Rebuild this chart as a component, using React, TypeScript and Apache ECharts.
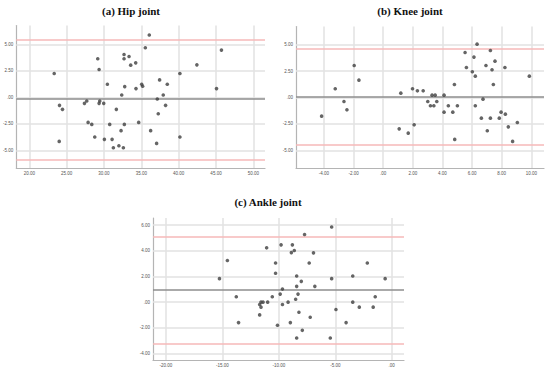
import { useEffect, useRef } from "react";
import * as echarts from "echarts";

// (a) Hip joint
const hipX = [36.07, 35.54, 45.73, 32.69, 33.36, 29.17, 32.69, 34.25, 33.58, 42.44, 29.35, 23.34, 40.17, 37.45, 30.46, 35.05, 38.48, 35.18, 32.78, 34.29, 45.07, 32.38, 37.94, 37.14, 27.7, 27.39, 29.44, 29.35, 29.97, 24.05, 24.45, 31.66, 38.25, 37.27, 27.88, 28.37, 30.77, 32.73, 34.65, 32.29, 36.25, 28.77, 40.17, 30.06, 31.09, 24.01, 37.05, 32.0, 31.26, 32.6];
const hipY = [5.87, 4.67, 4.45, 4.04, 3.85, 3.63, 3.63, 3.25, 3.03, 3.06, 2.62, 2.24, 2.24, 1.64, 1.23, 1.23, 1.23, 1.04, 1.01, 0.82, 0.82, 0.22, 0.22, -0.16, -0.35, -0.57, -0.35, -0.57, -0.57, -0.76, -1.14, -1.14, -0.76, -1.55, -2.37, -2.56, -2.56, -2.56, -2.37, -3.15, -3.15, -3.75, -3.75, -3.97, -3.97, -4.16, -4.35, -4.57, -4.76, -4.76];
const hipLines = [5.43, -0.16, -5.85]; // upper LoA, mean, lower LoA
const hipXTicks = [20, 25, 30, 35, 40, 45, 50];
const hipYTicks = [-5, -2.5, 0, 2.5, 5];

// (b) Knee joint
const kneeX = [6.34, 5.53, 7.24, 6.13, 7.55, -1.96, 6.94, 5.62, 8.22, 6.02, 7.35, 6.22, 9.87, -1.64, 4.81, 7.44, -3.24, 1.98, 2.31, 2.7, 1.19, 3.3, 3.51, 4.11, 6.74, -2.65, 3.01, 3.62, 3.19, 3.42, 4.4, 5.01, 6.22, -2.45, 4.11, 4.7, 7.96, 8.25, -4.16, 6.63, 7.24, 7.84, 9.06, 2.09, 8.45, 1.08, 7.03, 1.69, 4.83, 8.74];
const kneeY = [5.05, 4.26, 4.45, 3.82, 3.44, 3.03, 3.03, 2.84, 2.84, 2.43, 2.62, 2.02, 2.02, 1.64, 1.23, 1.23, 0.82, 0.82, 0.63, 0.63, 0.41, 0.22, 0.22, 0.22, -0.16, -0.38, -0.38, -0.38, -0.79, -0.79, -0.79, -0.79, -0.79, -1.17, -1.39, -1.39, -1.39, -1.58, -1.77, -1.96, -1.96, -1.96, -2.37, -2.59, -2.78, -2.97, -3.15, -3.38, -3.97, -4.16];
const kneeLines = [4.64, 0.07, -4.45];
const kneeXTicks = [-4, -2, 0, 2, 4, 6, 8, 10];
const kneeYTicks = [-5, -2.5, 0, 2.5, 5];

// (c) Ankle joint
const ankleX = [-5.32, -7.72, -9.8, -8.8, -11.08, -8.63, -8.89, -6.93, -14.56, -10.29, -7.31, -2.16, -8.42, -3.45, -10.29, -15.26, -5.32, -0.58, -8.01, -8.42, -6.81, -9.68, -13.77, -10.58, -1.46, -9.88, -8.3, -8.51, -11.58, -11.4, -10.99, -9.18, -3.45, -11.7, -11.58, -9.68, -2.87, -1.64, -4.94, -8.22, -11.7, -7.22, -13.57, -8.98, -4.04, -10.12, -7.92, -8.42, -5.44];
const ankleY = [5.85, 5.27, 4.46, 4.46, 4.23, 4.02, 3.86, 3.84, 3.24, 3.05, 3.05, 3.05, 2.04, 2.04, 2.25, 1.83, 1.83, 1.83, 1.62, 1.23, 1.23, 1.02, 0.42, 0.42, 0.42, 0.63, 0.63, 0.23, 0.0, 0.0, 0.0, 0.0, 0.0, -0.18, -0.39, -0.18, -0.39, -0.39, -0.57, -0.78, -0.99, -1.17, -1.59, -1.59, -1.59, -1.8, -2.19, -2.79, -2.79];
const ankleLines = [5.12, 0.97, -3.2];
const ankleXTicks = [-20, -15, -10, -5, 0];
const ankleYTicks = [-4, -2, 0, 2, 4, 6];

const titles = ["(a) Hip joint", "(b) Knee joint", "(c) Ankle joint"];

const fmt = (v: number) => (Math.abs(v) < 1e-9 ? ".00" : v.toFixed(2));

const GRID_COLOR = "#e2e2e2";
const AXIS_COLOR = "#b4b4b4";
const DOT_COLOR = "#3f3f3f";
const LOA_COLOR = "#f6b8b8";
const MEAN_COLOR = "#8e8e8e";

function makeAxis(gridIndex: number, min: number, max: number, ticks: number[]) {
  return {
    type: "value",
    gridIndex,
    min,
    max,
    axisLine: { show: true, onZero: false, lineStyle: { color: AXIS_COLOR, width: 1.2 } },
    axisTick: { show: false, customValues: ticks },
    axisLabel: {
      customValues: ticks,
      formatter: fmt,
      fontSize: 4.5,
      color: "#555",
      margin: 3,
      fontFamily: "Liberation Sans",
    },
    splitLine: { show: false },
  };
}

function makeGridSeries(idx: number, xt: number[], yt: number[]) {
  return {
    type: "scatter",
    xAxisIndex: idx,
    yAxisIndex: idx,
    z: 1,
    silent: true,
    data: [],
    markLine: {
      z: 1,
      silent: true,
      symbol: "none",
      label: { show: false },
      lineStyle: { color: GRID_COLOR, width: 1.5, type: "solid" },
      data: [...xt.map((v) => ({ xAxis: v })), ...yt.map((v) => ({ yAxis: v }))],
    },
  };
}

function makeSeries(idx: number, xs: number[], ys: number[], lines: number[]) {
  return {
    type: "scatter",
    xAxisIndex: idx,
    yAxisIndex: idx,
    z: 10,
    symbol: "circle",
    symbolSize: 3.6,
    itemStyle: { color: DOT_COLOR },
    data: xs.map((x, i) => [x, ys[i]]),
    markLine: {
      z: 3,
      silent: true,
      symbol: "none",
      label: { show: false },
      data: [
        { yAxis: lines[0], lineStyle: { color: LOA_COLOR, width: 1.5, type: "solid" } },
        { yAxis: lines[1], lineStyle: { color: MEAN_COLOR, width: 1.5, type: "solid" } },
        { yAxis: lines[2], lineStyle: { color: LOA_COLOR, width: 1.5, type: "solid" } },
      ],
    },
  };
}

export default function App() {
  const ref = useRef<HTMLDivElement>(null);
  useEffect(() => {
    document.body.style.margin = "0";
    const chart = echarts.init(ref.current!, undefined, { renderer: "svg" });
    const titleStyle = (text: string, x: number, y: number) => ({
      type: "text",
      x,
      y,
      style: {
        text,
        fontSize: 11,
        fontWeight: "bold",
        fontFamily: "Liberation Serif",
        fill: "#111",
        textAlign: "center",
        textVerticalAlign: "middle",
        align: "center",
        verticalAlign: "middle",
      },
    });
    chart.setOption({
      animation: false,
      backgroundColor: "#ffffff",
      graphic: [
        titleStyle(titles[0], 131, 11),
        titleStyle(titles[1], 410, 11),
        titleStyle(titles[2], 268, 202),
      ],
      grid: [
        { left: 16, top: 25.5, width: 249, height: 142.5 },
        { left: 296, top: 26.5, width: 248, height: 141.5 },
        { left: 153, top: 218, width: 251, height: 142 },
      ],
      xAxis: [
        makeAxis(0, 18.26, 51.56, hipXTicks),
        makeAxis(1, -5.89, 10.86, kneeXTicks),
        makeAxis(2, -21.15, 1.09, ankleXTicks),
      ],
      yAxis: [
        makeAxis(0, -6.67, 6.77, hipYTicks),
        makeAxis(1, -6.68, 6.72, kneeYTicks),
        makeAxis(2, -4.5, 6.55, ankleYTicks),
      ],
      series: [
        makeGridSeries(0, hipXTicks, hipYTicks),
        makeGridSeries(1, kneeXTicks, kneeYTicks),
        makeGridSeries(2, ankleXTicks, ankleYTicks),
        makeSeries(0, hipX, hipY, hipLines),
        makeSeries(1, kneeX, kneeY, kneeLines),
        makeSeries(2, ankleX, ankleY, ankleLines),
      ],
    });
    return () => chart.dispose();
  }, []);
  return (
    <div
      ref={ref}
      style={{ position: "fixed", left: 0, top: 0, width: 550, height: 373, background: "#fff" }}
    />
  );
}
